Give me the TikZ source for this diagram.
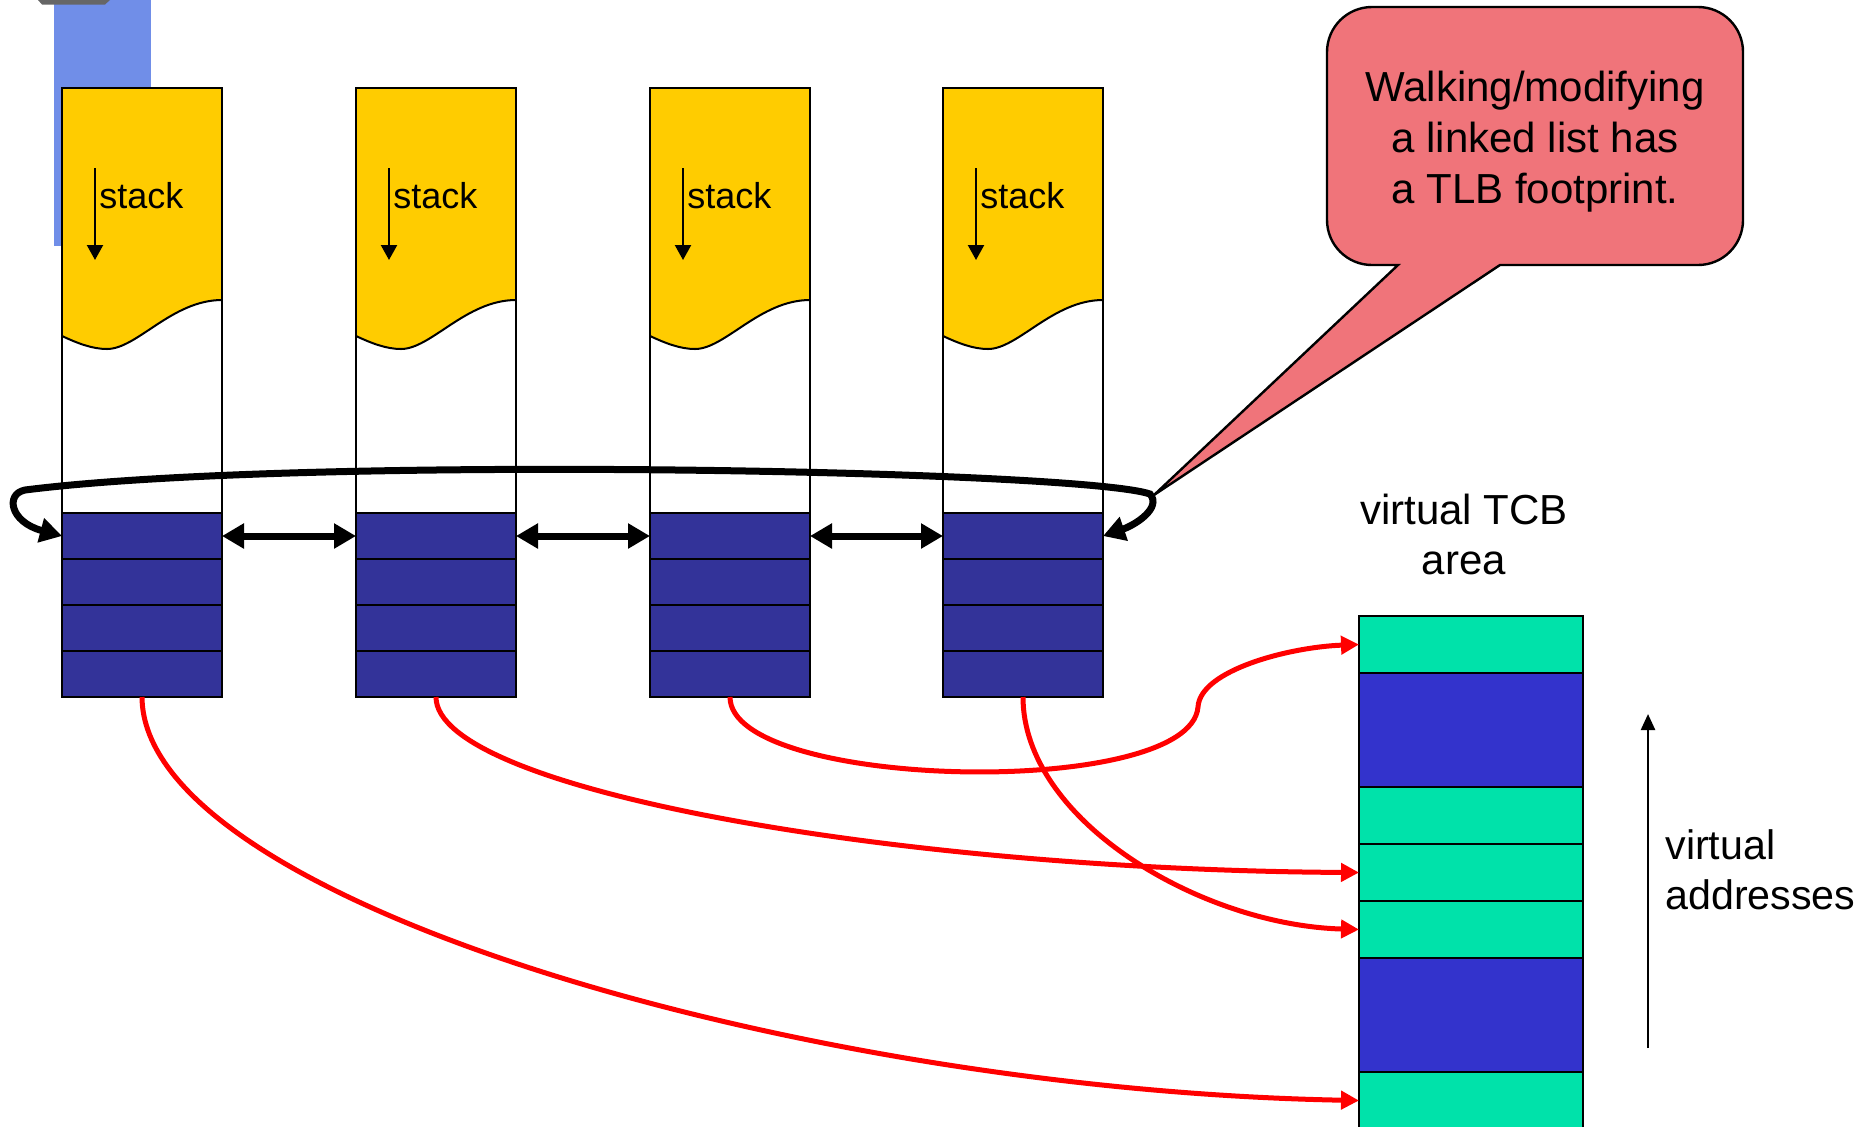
\documentclass[tikz,border=0pt]{standalone}
\usepackage{fontspec}
\setmainfont{Liberation Sans}
\usetikzlibrary{arrows.meta}
\definecolor{bgblue}{RGB}{112,142,232}
\definecolor{stackyellow}{RGB}{255,204,0}
\definecolor{navyfill}{RGB}{51,51,153}
\definecolor{tcbgreen}{RGB}{0,226,170}
\definecolor{tcbblue}{RGB}{51,51,204}
\definecolor{calloutpink}{RGB}{240,116,122}
\begin{document}
\begin{tikzpicture}[x=0.5pt,y=-0.5pt,
  colframe/.style={draw=black,line width=1.1pt},
  navyrow/.style={draw=black,line width=1.3pt,fill=navyfill,minimum width=80pt,minimum height=23pt,inner sep=0pt,outer sep=0pt,anchor=north west},
  greenrow/.style={draw=black,line width=1.3pt,fill=tcbgreen,minimum width=112pt,minimum height=28.5pt,inner sep=0pt,outer sep=0pt,anchor=north west},
  bluerow/.style={greenrow,fill=tcbblue,minimum height=57pt},
  link/.style={line width=3.5pt,{Triangle[length=11pt,width=12pt]}-{Triangle[length=11pt,width=12pt]}},
  ptr/.style={draw=red,line width=2.5pt,-{Triangle[length=9pt,width=9pt]}},
  lbl/.style={font=\fontsize{21pt}{25pt}\selectfont,inner sep=0pt},
]
\useasboundingbox (0,0) rectangle (1872,1126);
\fill[white] (0,0) rectangle (1872,1126);
% background decoration
\fill[bgblue] (54,0) rectangle (151,246);
\fill[black!60] (38,0) -- (110,0) -- (105,4.5) -- (42,4.5) -- cycle;
% columns
\foreach \i/\L in {1/62,2/356,3/650,4/943} {
  \fill[white] (\L,88) rectangle (\L+160,513);
  \fill[stackyellow] (\L,88) -- (\L+160,88) -- (\L+160,300) .. controls (\L+110,300) and (\L+75,349) .. (\L+45,349) .. controls (\L+30,349) and (\L+15,343) .. (\L,336) -- cycle;
  \draw[line width=1pt] (\L+160,300) .. controls (\L+110,300) and (\L+75,349) .. (\L+45,349) .. controls (\L+30,349) and (\L+15,343) .. (\L,336);
  \draw[colframe] (\L,88) rectangle (\L+160,513);
  \draw[line width=1.1pt,-{Triangle[length=7.5pt,width=8pt]}] (\L+33,168) -- (\L+33,260);
  \node[font=\fontsize{18pt}{20pt}\selectfont,inner sep=0pt,anchor=base west] (stack\i) at (\L+37,208) {stack};
  \node[navyrow] (col\i-1) at (\L,513) {};
  \node[navyrow] (col\i-2) at (\L,559) {};
  \node[navyrow] (col\i-3) at (\L,605) {};
  \node[navyrow] (col\i-4) at (\L,651) {};
}
% TCB area
\node[greenrow] (tcb1) at (1359,616) {};
\node[bluerow]  (tcb2) at (1359,673) {};
\node[greenrow] (tcb3) at (1359,787) {};
\node[greenrow] (tcb4) at (1359,844) {};
\node[greenrow] (tcb5) at (1359,901) {};
\node[bluerow]  (tcb6) at (1359,958) {};
\node[greenrow] (tcb7) at (1359,1072) {};
% callout
\draw[fill=calloutpink,line width=1.2pt] (1500,265) [rounded corners=22.5pt] -- (1743,265) -- (1743,7) -- (1327,7) -- (1327,265) [sharp corners] -- (1398,265) -- (1154,495) -- cycle;
\node[lbl,align=center,font=\fontsize{21pt}{25.5pt}\selectfont] (callouttext) at (1535,141.5) {Walking/modifying\\a linked list has\\a TLB footprint.};
% links
\draw[link] (col1-1.east) -- (col2-1.west);
\draw[link] (col2-1.east) -- (col3-1.west);
\draw[link] (col3-1.east) -- (col4-1.west);
\draw[link] (col4-1.east) .. controls (1135,525) and (1162,508) .. (1150,494) .. controls (1080,470) and (300,455) .. (25,490) .. controls (5,494) and (10,522) .. (col1-1.west);
% pointers
\draw[ptr] (col1-4.south) .. controls (143,900) and (800,1090) .. (tcb7.west);
\draw[ptr] (col2-4.south) .. controls (436,790) and (900,870) .. (tcb4.west);
\draw[ptr] (col3-4.south) .. controls (730,790) and (1190,800) .. (1198,707) .. controls (1200,670) and (1290,647) .. (tcb1.west);
\draw[ptr] (col4-4.south) .. controls (1023,820) and (1200,925) .. (tcb5.west);
% labels
\node[lbl,align=center] (tcblabel) at (1464,534.5) {virtual TCB\\area};
\coordinate (vabot) at (1648,1048);
\coordinate (vatop) at (1648,714);
\draw[line width=1.2pt,-{Triangle[length=8pt,width=7pt]}] (vabot) -- (vatop);
\node[lbl,align=left,anchor=west,font=\fontsize{20.6pt}{25pt}\selectfont] (valabel) at (1665,870) {virtual\\addresses};
\end{tikzpicture}
\end{document}
